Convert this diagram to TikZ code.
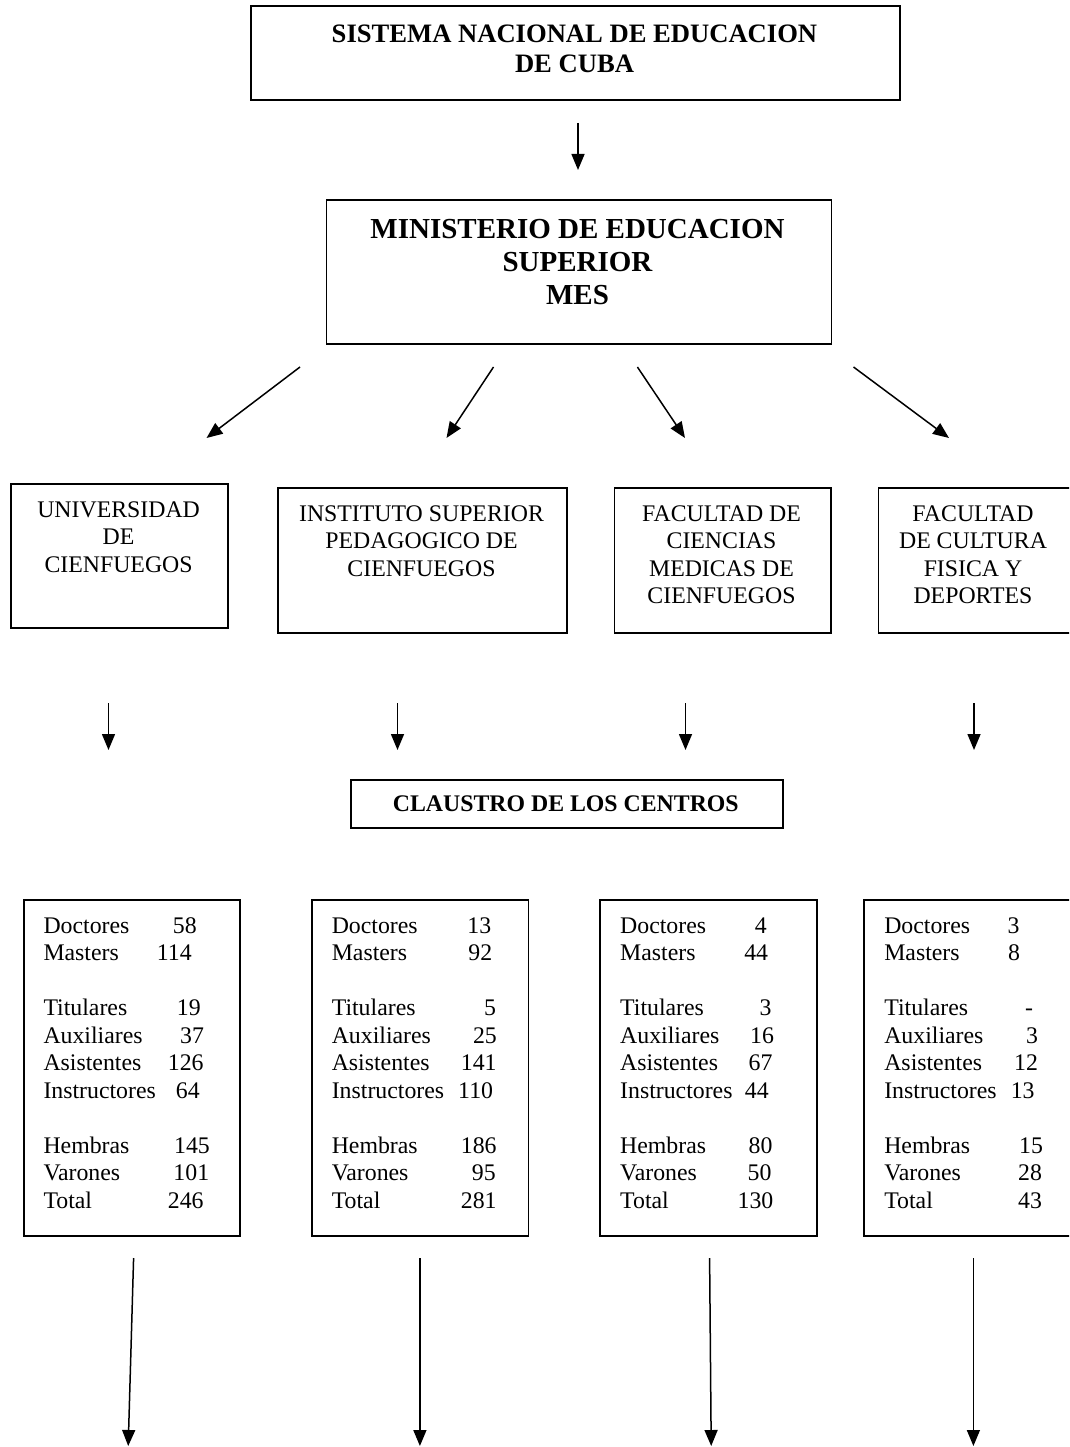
\documentclass[tikz,border=0pt]{standalone}
\usepackage{fontspec}
\setmainfont{Liberation Serif}
\usetikzlibrary{arrows.meta}
\newcommand{\srow}[3]{\makebox[#2pt][l]{#1}#3}
\begin{document}
\begin{tikzpicture}[x=1pt,y=-1pt,
  frame/.style={draw, line width=1.8pt, inner sep=0pt, anchor=north west},
  arr/.style={line width=1.5pt, -{Triangle[length=16pt,width=13pt]}},
  reg/.style={inner sep=0pt, font=\fontsize{23.8}{27.5}\selectfont},
  regc/.style={reg, anchor=north, align=center},
  stat/.style={reg, anchor=north west, align=left},
  titleA/.style={inner sep=0pt, anchor=north, align=center, font=\fontsize{26.6}{30}\selectfont\bfseries},
  titleB/.style={inner sep=0pt, anchor=north, align=center, font=\fontsize{29}{33}\selectfont\bfseries},
  titleC/.style={inner sep=0pt, anchor=base, font=\fontsize{23.8}{27.5}\selectfont\bfseries}]
\path[use as bounding box] (0,0) rectangle (1069,1447);
\clip (0,0) rectangle (1069,1447);

% top boxes
\node[frame, minimum width=649pt, minimum height=94pt] (sn) at (250,5) {};
\node[titleA] (snt) at (574.5,21) {\strut SISTEMA NACIONAL DE EDUCACION\\DE CUBA};
\node[frame, minimum width=505pt, minimum height=144pt] (mes) at (325.5,199) {};
\node[titleB] (mest) at (577.5,214.9) {\strut MINISTERIO DE EDUCACION\\SUPERIOR\\MES};

% centres
\node[frame, minimum width=217pt, minimum height=144pt] (ucf) at (10,483) {};
\node[regc] (ucft) at (118.6,497.75) {\strut UNIVERSIDAD\\DE\\CIENFUEGOS};
\node[frame, minimum width=289pt, minimum height=145pt] (isp) at (277,487) {};
\node[regc] (ispt) at (421.5,501.75) {\strut INSTITUTO SUPERIOR\\PEDAGOGICO DE\\CIENFUEGOS};
\node[frame, minimum width=216.5pt, minimum height=145pt] (fcm) at (613.5,487) {};
\node[regc] (fcmt) at (721.5,501.75) {\strut FACULTAD DE\\CIENCIAS\\MEDICAS DE\\CIENFUEGOS};
\node[frame, minimum width=220pt, minimum height=145pt] (fcf) at (877.5,487) {};
\node[regc] (fcft) at (973,501.75) {\strut FACULTAD\\DE CULTURA\\FISICA Y\\DEPORTES};

% claustro
\node[frame, minimum width=432pt, minimum height=48pt] (cl) at (349.7,779) {};
\node[titleC] (clt) at (565.8,811) {CLAUSTRO DE LOS CENTROS};

% stats boxes
\node[frame, minimum width=216.6pt, minimum height=336pt] (s1) at (22.7,899) {};
\node[stat] (s1t) at (43.3,913.75) {\strut\srow{Doctores}{129.4}{58}\\
\srow{Masters}{113.4}{114}\\[27.5pt]
\srow{Titulares}{133.4}{19}\\
\srow{Auxiliares}{136.7}{37}\\
\srow{Asistentes}{124.4}{126}\\
\srow{Instructores}{132.4}{64}\\[27.5pt]
\srow{Hembras}{130.7}{145}\\
\srow{Varones}{130}{101}\\
\srow{Total}{124.4}{246}};

\node[frame, minimum width=216.5pt, minimum height=336pt] (s2) at (311,899) {};
\node[stat] (s2t) at (331.6,913.75) {\strut\srow{Doctores}{135.7}{13}\\
\srow{Masters}{136.7}{92}\\[27.5pt]
\srow{Titulares}{152.2}{5}\\
\srow{Auxiliares}{141.2}{25}\\
\srow{Asistentes}{129.1}{141}\\
\srow{Instructores}{126.4}{110}\\[27.5pt]
\srow{Hembras}{129.1}{186}\\
\srow{Varones}{140.2}{95}\\
\srow{Total}{129.1}{281}};

\node[frame, minimum width=217pt, minimum height=336pt] (s3) at (599,899) {};
\node[stat] (s3t) at (620,913.75) {\strut\srow{Doctores}{134.6}{4}\\
\srow{Masters}{124.1}{44}\\[27.5pt]
\srow{Titulares}{139.3}{3}\\
\srow{Auxiliares}{129.9}{16}\\
\srow{Asistentes}{128.5}{67}\\
\srow{Instructores}{124.8}{44}\\[27.5pt]
\srow{Hembras}{128.5}{80}\\
\srow{Varones}{127.5}{50}\\
\srow{Total}{117.4}{130}};

\node[frame, minimum width=217pt, minimum height=336pt] (s4) at (863,899) {};
\node[stat] (s4t) at (884.1,913.75) {\strut\srow{Doctores}{123.2}{3}\\
\srow{Masters}{123.9}{8}\\[27.5pt]
\srow{Titulares}{140.7}{-}\\
\srow{Auxiliares}{141.7}{3}\\
\srow{Asistentes}{129.9}{12}\\
\srow{Instructores}{126.5}{13}\\[27.5pt]
\srow{Hembras}{134.9}{15}\\
\srow{Varones}{133.9}{28}\\
\srow{Total}{133.9}{43}};

% connector end points
\coordinate (a0s) at (578,123);   \coordinate (a0e) at (578,170);
\coordinate (d1s) at (300,367);   \coordinate (d1e) at (206.5,438);
\coordinate (d2s) at (493.5,367); \coordinate (d2e) at (446.5,438);
\coordinate (d3s) at (637.4,367); \coordinate (d3e) at (685,438);
\coordinate (d4s) at (853.5,367); \coordinate (d4e) at (949,438);
\coordinate (v1s) at (108.5,703); \coordinate (v1e) at (108.5,750);
\coordinate (v2s) at (397.5,703); \coordinate (v2e) at (397.5,750);
\coordinate (v3s) at (685.5,703); \coordinate (v3e) at (685.5,750);
\coordinate (v4s) at (974,703);   \coordinate (v4e) at (974,750);
\coordinate (b1s) at (133.6,1258); \coordinate (b1e) at (128.2,1446);
\coordinate (b2s) at (419.9,1258); \coordinate (b2e) at (419.9,1446);
\coordinate (b3s) at (709.6,1258); \coordinate (b3e) at (711.2,1446);
\coordinate (b4s) at (973.4,1258); \coordinate (b4e) at (973.4,1446);

\foreach \p in {a0,d1,d2,d3,d4,v1,v2,v3,v4,b1,b2,b3,b4}
  \draw[arr] (\p s) -- (\p e);
\end{tikzpicture}
\end{document}
